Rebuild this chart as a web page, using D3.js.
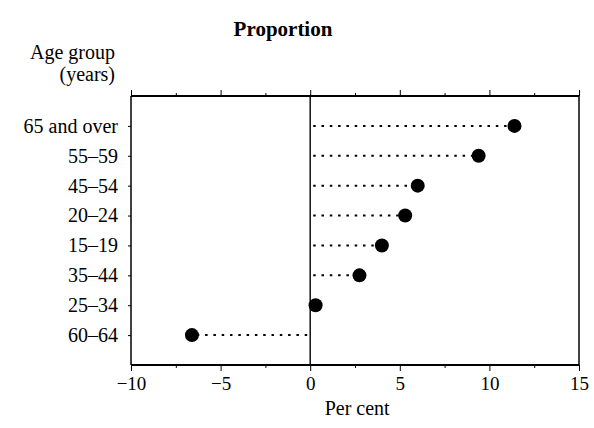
<!DOCTYPE html>
<html>
<head>
<meta charset="utf-8">
<script src="https://cdn.jsdelivr.net/npm/d3@7"></script>
<style>
  body { margin: 0; background: #fff; }
  svg text { font-family: "Liberation Serif", "Times New Roman", serif; fill: #000; }
</style>
</head>
<body>
<div id="chart"></div>
<script>
const groups = ["65 and over", "55\u201359", "45\u201354", "20\u201324", "15\u201319", "35\u201344", "25\u201334", "60\u201364"];
const values = [11.4, 9.4, 6.0, 5.3, 4.0, 2.75, 0.3, -6.6];
const xTicks = [-10, -5, 0, 5, 10, 15];
const xMinor = [-7.5, -2.5, 2.5, 7.5, 12.5];

const width = 594, height = 428;
const margin = { top: 96, right: 15, bottom: 63, left: 131 };
const w = width - margin.left - margin.right;
const h = height - margin.top - margin.bottom;

const svg = d3.select("#chart").append("svg")
  .attr("width", width).attr("height", height);

const g = svg.append("g").attr("transform", `translate(${margin.left},${margin.top})`);

const x = d3.scaleLinear().domain([-10, 15]).range([0, w]);
const y = d3.scalePoint().domain(groups).range([0, h]).padding(1);

// bottom axis
const bottomAxis = g.append("g").attr("transform", `translate(0,${h})`)
  .call(d3.axisBottom(x).tickValues(xTicks).tickSize(6).tickPadding(6)
    .tickFormat(d => d < 0 ? "\u2212" + Math.abs(d) : d));
bottomAxis.select(".domain").remove();
bottomAxis.selectAll("text").attr("font-size", 19).attr("font-family", "Liberation Serif");
g.append("g").attr("transform", `translate(0,${h})`)
  .call(d3.axisBottom(x).tickValues(xMinor).tickSize(3).tickFormat(""))
  .select(".domain").remove();

// top axis ticks
const topAxis = g.append("g")
  .call(d3.axisTop(x).tickValues(xTicks).tickSize(6).tickFormat(""));
topAxis.select(".domain").remove();
g.append("g")
  .call(d3.axisTop(x).tickValues(xMinor).tickSize(3).tickFormat(""))
  .select(".domain").remove();

// left axis with category labels
const leftAxis = g.append("g")
  .call(d3.axisLeft(y).tickSize(3).tickPadding(10));
leftAxis.select(".domain").remove();
leftAxis.selectAll("text").attr("font-size", 20).attr("font-family", "Liberation Serif");

// frame
g.append("line").attr("x1", 0).attr("x2", w).attr("y1", 0).attr("y2", 0)
  .attr("stroke", "#000").attr("stroke-width", 2.2);
g.append("line").attr("x1", 0).attr("x2", w).attr("y1", h).attr("y2", h)
  .attr("stroke", "#000").attr("stroke-width", 2.2);
g.append("line").attr("x1", 0).attr("x2", 0).attr("y1", 0).attr("y2", h)
  .attr("stroke", "#000").attr("stroke-width", 1.5);
g.append("line").attr("x1", w).attr("x2", w).attr("y1", 0).attr("y2", h)
  .attr("stroke", "#000").attr("stroke-width", 1.5);

// zero line
g.append("line").attr("x1", x(0)).attr("x2", x(0)).attr("y1", 0).attr("y2", h)
  .attr("stroke", "#000").attr("stroke-width", 1.4);

const data = groups.map((k, i) => ({ group: k, value: values[i] }));

// dotted leaders
g.selectAll(".leader").data(data).enter().append("line")
  .attr("class", "leader")
  .attr("x1", d => x(0) + (d.value >= 0 ? 3 : -3))
  .attr("x2", d => x(d.value))
  .attr("y1", d => y(d.group)).attr("y2", d => y(d.group))
  .attr("stroke", "#000").attr("stroke-width", 2)
  .attr("stroke-dasharray", "2.5,5.8");

// dots
g.selectAll(".dot").data(data).enter().append("circle")
  .attr("class", "dot")
  .attr("cx", d => x(d.value)).attr("cy", d => y(d.group))
  .attr("r", 7).attr("fill", "#000");

// titles
svg.append("text").attr("x", 283).attr("y", 36)
  .attr("text-anchor", "middle").attr("font-size", 21).attr("font-weight", "bold")
  .text("Proportion");
svg.append("text").attr("x", 115).attr("y", 59)
  .attr("text-anchor", "end").attr("font-size", 20).text("Age group");
svg.append("text").attr("x", 115).attr("y", 81)
  .attr("text-anchor", "end").attr("font-size", 20).text("(years)");
svg.append("text").attr("x", margin.left + x(0) + 47).attr("y", 415)
  .attr("text-anchor", "middle").attr("font-size", 20).text("Per cent");
</script>
</body>
</html>
